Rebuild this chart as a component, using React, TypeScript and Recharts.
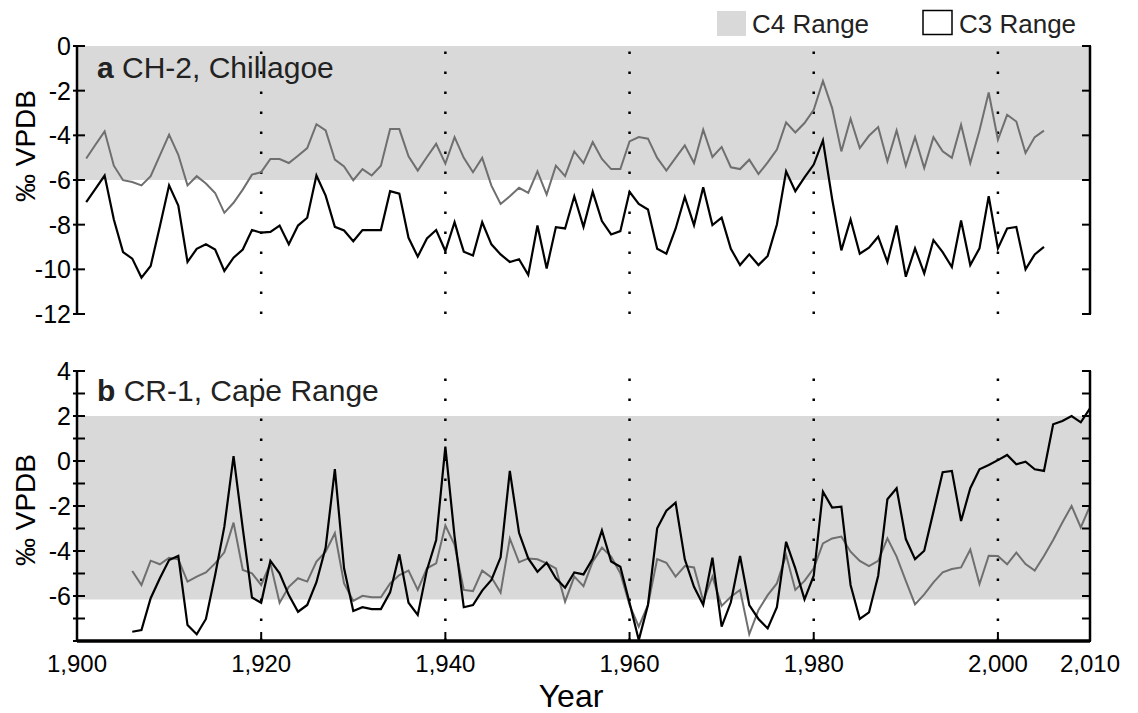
import React from "react";
import {
  LineChart,
  Line,
  XAxis,
  YAxis,
  ReferenceArea,
  ReferenceLine,
} from "recharts";

const FONT = '"Liberation Sans", Arial, Helvetica, sans-serif';

// panel a: CH-2, Chillagoe (1901-2005)
const YEARS_A = [
  1901, 1902, 1903, 1904, 1905, 1906, 1907, 1908, 1909, 1910,
  1911, 1912, 1913, 1914, 1915, 1916, 1917, 1918, 1919, 1920,
  1921, 1922, 1923, 1924, 1925, 1926, 1927, 1928, 1929, 1930,
  1931, 1932, 1933, 1934, 1935, 1936, 1937, 1938, 1939, 1940,
  1941, 1942, 1943, 1944, 1945, 1946, 1947, 1948, 1949, 1950,
  1951, 1952, 1953, 1954, 1955, 1956, 1957, 1958, 1959, 1960,
  1961, 1962, 1963, 1964, 1965, 1966, 1967, 1968, 1969, 1970,
  1971, 1972, 1973, 1974, 1975, 1976, 1977, 1978, 1979, 1980,
  1981, 1982, 1983, 1984, 1985, 1986, 1987, 1988, 1989, 1990,
  1991, 1992, 1993, 1994, 1995, 1996, 1997, 1998, 1999, 2000,
  2001, 2002, 2003, 2004, 2005,
];

const CH2_GRAY = [
  -5.04, -4.42, -3.82, -5.36, -6.01, -6.09, -6.24, -5.83, -4.9, -3.97,
  -4.87, -6.24, -5.83, -6.16, -6.58, -7.47, -7.02, -6.43, -5.76, -5.65,
  -5.06, -5.06, -5.24, -4.91, -4.57, -3.5, -3.78, -5.09, -5.39, -6.01,
  -5.51, -5.8, -5.36, -3.72, -3.72, -4.94, -5.58, -4.97, -4.38, -5.27,
  -4.08, -5.01, -5.65, -5.01, -6.25, -7.07, -6.73, -6.35, -6.58, -5.61,
  -6.65, -5.36, -5.83, -4.72, -5.24, -4.3, -5.06, -5.51, -5.51, -4.27,
  -4.08, -4.15, -5.01, -5.58, -5.01, -4.45, -5.24, -3.75, -4.97, -4.52,
  -5.43, -5.51, -5.09, -5.73, -5.21, -4.64, -3.42, -3.87, -3.45, -2.86,
  -1.56, -2.78, -4.72, -3.26, -4.57, -4.02, -3.63, -5.16, -3.78, -5.36,
  -4.08, -5.46, -4.08, -4.72, -5.01, -3.53, -5.24, -3.78, -2.08, -4.2,
  -3.08, -3.38, -4.79, -4.08, -3.79,
];

const CH2_BLACK = [
  -6.99, -6.4, -5.8, -7.77, -9.23, -9.52, -10.37, -9.85, -8.07, -6.24,
  -7.14, -9.67, -9.08, -8.88, -9.11, -10.07, -9.48, -9.11, -8.24, -8.36,
  -8.32, -8.04, -8.88, -8.04, -7.69, -5.8, -6.7, -8.1, -8.26, -8.74,
  -8.24, -8.24, -8.24, -6.5, -6.61, -8.59, -9.43, -8.62, -8.24, -9.18,
  -7.89, -9.21, -9.38, -7.89, -8.88, -9.33, -9.67, -9.55, -10.25, -8.04,
  -9.96, -8.11, -8.17, -6.73, -8.1, -6.53, -7.84, -8.44, -8.29, -6.53,
  -7.07, -7.32, -9.08, -9.3, -8.18, -6.76, -8.02, -6.32, -8.02, -7.69,
  -9.08, -9.81, -9.33, -9.81, -9.4, -7.99, -5.61, -6.5, -5.88, -5.31,
  -4.23, -6.85, -9.15, -7.77, -9.3, -9.03, -8.54, -9.67, -8.04, -10.33,
  -9.06, -10.18, -8.69, -9.23, -9.9, -7.81, -9.81, -9.06, -6.73, -9.06,
  -8.17, -8.1, -10.0, -9.33, -8.99,
];

// panel b: CR-1, Cape Range (1906-2010)
const YEARS_B = [
  1906, 1907, 1908, 1909, 1910,
  1911, 1912, 1913, 1914, 1915, 1916, 1917, 1918, 1919, 1920,
  1921, 1922, 1923, 1924, 1925, 1926, 1927, 1928, 1929, 1930,
  1931, 1932, 1933, 1934, 1935, 1936, 1937, 1938, 1939, 1940,
  1941, 1942, 1943, 1944, 1945, 1946, 1947, 1948, 1949, 1950,
  1951, 1952, 1953, 1954, 1955, 1956, 1957, 1958, 1959, 1960,
  1961, 1962, 1963, 1964, 1965, 1966, 1967, 1968, 1969, 1970,
  1971, 1972, 1973, 1974, 1975, 1976, 1977, 1978, 1979, 1980,
  1981, 1982, 1983, 1984, 1985, 1986, 1987, 1988, 1989, 1990,
  1991, 1992, 1993, 1994, 1995, 1996, 1997, 1998, 1999, 2000,
  2001, 2002, 2003, 2004, 2005, 2006, 2007, 2008, 2009, 2010,
];

const CR1_GRAY = [
  -4.89, -5.51, -4.43, -4.59, -4.3,
  -4.37, -5.36, -5.14, -4.95, -4.55, -4.06, -2.74, -4.84, -4.99, -5.51,
  -4.55, -6.3, -5.59, -5.21, -5.36, -4.47, -4.03, -3.21, -5.44, -6.22,
  -5.99, -6.06, -6.06, -5.44, -5.07, -4.87, -5.73, -4.77, -4.55, -2.87,
  -3.73, -5.73, -5.78, -4.87, -5.17, -5.85, -3.44, -4.5, -4.33, -4.37,
  -4.55, -4.77, -6.25, -5.14, -5.56, -4.47, -3.85, -4.25, -4.99, -6.4,
  -7.36, -6.4, -4.36, -4.52, -5.14, -4.67, -4.73, -6.22, -5.14, -6.44,
  -6.03, -5.73, -7.7, -6.62, -5.96, -5.44, -4.18, -5.73, -5.33, -4.77,
  -3.66, -3.44, -3.36, -4.03, -4.44, -4.67, -4.44, -3.44, -4.25, -5.33,
  -6.37, -5.93, -5.39, -4.95, -4.8, -4.73, -3.93, -5.47, -4.21, -4.22,
  -4.59, -4.07, -4.58, -4.87, -4.22, -3.51, -2.73, -2.0, -2.95, -2.0,
];

const CR1_BLACK = [
  -7.59, -7.51, -6.1, -5.21, -4.4,
  -4.22, -7.29, -7.7, -7.02, -5.07, -2.92, 0.22, -2.99, -6.07, -6.3,
  -4.44, -4.99, -5.96, -6.7, -6.4, -5.39, -3.85, -0.36, -4.77, -6.67,
  -6.5, -6.58, -6.58, -5.84, -4.15, -6.3, -6.84, -4.84, -3.51, 0.64,
  -3.36, -6.5, -6.4, -5.76, -5.29, -4.28, -0.44, -3.19, -4.33, -4.92,
  -4.52, -5.21, -5.63, -4.95, -5.04, -4.33, -3.09, -4.47, -4.7, -6.3,
  -7.96, -6.4, -2.99, -2.21, -1.85, -4.37, -5.59, -6.4, -4.3, -7.36,
  -6.28, -4.22, -6.4, -7.02, -7.44, -6.5, -3.59, -4.77, -6.15, -5.1,
  -1.36, -2.07, -2.03, -5.51, -7.02, -6.73, -5.1, -1.7, -1.21, -3.47,
  -4.36, -3.99, -2.25, -0.5, -0.44, -2.67, -1.21, -0.37, -0.18, 0.04,
  0.27, -0.15, -0.03, -0.37, -0.44, 1.63, 1.78, 2.0, 1.72, 2.34,
];

const X_TICKS = [1900, 1920, 1940, 1960, 1980, 2000, 2010];
const DOTTED_YEARS = [1920, 1940, 1960, 1980, 2000];
const A_TICKS = [-12, -10, -8, -6, -4, -2, 0];
const B_TICKS = [-8, -7, -6, -5, -4, -3, -2, -1, 0, 1, 2, 3, 4];
const B_LABELS = [-6, -4, -2, 0, 2, 4];

const dataA = YEARS_A.map((year, i) => ({
  year,
  gray: CH2_GRAY[i],
  black: CH2_BLACK[i],
}));

const dataB = YEARS_B.map((year, i) => ({
  year,
  gray: CR1_GRAY[i],
  black: CR1_BLACK[i],
}));

const GRAY = "#6f6f6f";
const BAND = "#d9d9d9";

// plot frame edges (px)
const LEFT_X = 77;
const RIGHT_X = 1090;
const BOTTOM_Y = 641;

const axisLine = { stroke: "#000", strokeWidth: 2.5 };

const fmtYear = (v: number) => v.toLocaleString("en-US");

// tick marks on both vertical axes (pointing inward) + label on the left
const VTick = (props: any) => {
  const { y, payload, showLabel } = props;
  const v = payload.value as number;
  return (
    <g>
      <line x1={LEFT_X - 4} x2={LEFT_X + 8} y1={y} y2={y} stroke="#000" strokeWidth={2} />
      <line x1={RIGHT_X + 1} x2={RIGHT_X - 8} y1={y} y2={y} stroke="#000" strokeWidth={2} />
      {showLabel(v) && (
        <text
          x={LEFT_X - 6}
          y={y}
          textAnchor="end"
          dominantBaseline="central"
          fontSize={25}
          fontFamily={FONT}
          fill="#000"
        >
          {v}
        </text>
      )}
    </g>
  );
};

const XTick = (props: any) => {
  const { x, payload } = props;
  const v = payload.value as number;
  return (
    <g>
      <line x1={x} x2={x} y1={BOTTOM_Y} y2={BOTTOM_Y - 9} stroke="#000" strokeWidth={2} />
      <text
        x={x}
        y={BOTTOM_Y + 22}
        textAnchor="middle"
        dominantBaseline="central"
        fontSize={24}
        fontFamily={FONT}
        fill="#000"
      >
        {fmtYear(v)}
      </text>
    </g>
  );
};

const App: React.FC = () => {
  return (
    <div
      style={{
        position: "absolute",
        left: 0,
        top: 0,
        width: 1138,
        height: 713,
        background: "#fff",
        fontFamily: FONT,
      }}
    >
      <div style={{ position: "absolute", left: 0, top: 0 }}>
        <LineChart
          width={1138}
          height={330}
          data={dataA}
          margin={{ top: 46, right: 46, bottom: 16, left: 0 }}
        >
          <XAxis type="number" dataKey="year" domain={[1900, 2010]} hide />
          <ReferenceArea
            yAxisId="l"
            y1={-6}
            y2={0}
            fill={BAND}
            fillOpacity={1}
            stroke="none"
          />
          {DOTTED_YEARS.map((yr) => (
            <ReferenceLine
              key={`a-${yr}`}
              yAxisId="l"
              x={yr}
              stroke="#000"
              strokeWidth={2.5}
              strokeDasharray="2.5 17.5"
            />
          ))}
          <Line
            yAxisId="l"
            type="linear"
            dataKey="gray"
            stroke={GRAY}
            strokeWidth={2}
            dot={false}
            isAnimationActive={false}
          />
          <Line
            yAxisId="l"
            type="linear"
            dataKey="black"
            stroke="#000"
            strokeWidth={2.2}
            dot={false}
            isAnimationActive={false}
          />
          <YAxis
            yAxisId="l"
            domain={[-12, 0]}
            ticks={A_TICKS}
            width={77}
            axisLine={axisLine}
            tickLine={false}
            interval={0}
            tick={(p: any) => <VTick {...p} showLabel={() => true} />}
          />
          <YAxis
            yAxisId="r"
            orientation="right"
            domain={[-12, 0]}
            width={2}
            axisLine={axisLine}
            tickLine={false}
            tick={false}
          />
        </LineChart>
      </div>

      <div style={{ position: "absolute", left: 0, top: 0 }}>
        <LineChart
          width={1138}
          height={713}
          data={dataB}
          margin={{ top: 371, right: 46, bottom: 0, left: 0 }}
        >
          <ReferenceArea
            yAxisId="l"
            y1={-6.15}
            y2={2}
            fill={BAND}
            fillOpacity={1}
            stroke="none"
          />
          {DOTTED_YEARS.map((yr) => (
            <ReferenceLine
              key={`b-${yr}`}
              yAxisId="l"
              x={yr}
              stroke="#000"
              strokeWidth={2.5}
              strokeDasharray="2.5 17.5"
            />
          ))}
          <Line
            yAxisId="l"
            type="linear"
            dataKey="gray"
            stroke={GRAY}
            strokeWidth={2}
            dot={false}
            isAnimationActive={false}
          />
          <Line
            yAxisId="l"
            type="linear"
            dataKey="black"
            stroke="#000"
            strokeWidth={2.2}
            dot={false}
            isAnimationActive={false}
          />
          <XAxis
            type="number"
            dataKey="year"
            domain={[1900, 2010]}
            ticks={X_TICKS}
            interval={0}
            height={72}
            axisLine={{ stroke: "#000", strokeWidth: 3.5 }}
            tickLine={false}
            tick={(p: any) => <XTick {...p} />}
          />
          <YAxis
            yAxisId="l"
            domain={[-8, 4]}
            ticks={B_TICKS}
            width={77}
            axisLine={axisLine}
            tickLine={false}
            interval={0}
            tick={(p: any) => (
              <VTick {...p} showLabel={(v: number) => B_LABELS.includes(v)} />
            )}
          />
          <YAxis
            yAxisId="r"
            orientation="right"
            domain={[-8, 4]}
            width={2}
            axisLine={axisLine}
            tickLine={false}
            tick={false}
          />
        </LineChart>
      </div>

      {/* titles, axis labels, legend */}
      <svg
        width={1138}
        height={713}
        style={{ position: "absolute", left: 0, top: 0, pointerEvents: "none" }}
        fontFamily={FONT}
      >
        <text x={97} y={78} fontSize={30} fill="#222">
          <tspan fontWeight="bold">a</tspan> CH-2, Chillagoe
        </text>
        <text x={97} y={401} fontSize={30} fill="#222">
          <tspan fontWeight="bold">b</tspan> CR-1, Cape Range
        </text>
        <text
          x={25}
          y={146}
          fontSize={28}
          textAnchor="middle"
          dominantBaseline="central"
          transform="rotate(-90 25 146)"
        >
          ‰ VPDB
        </text>
        <text
          x={25}
          y={510}
          fontSize={28}
          textAnchor="middle"
          dominantBaseline="central"
          transform="rotate(-90 25 510)"
        >
          ‰ VPDB
        </text>
        <text x={571} y={707} fontSize={32} textAnchor="middle">
          Year
        </text>
        <rect x={717} y={11} width={29} height={25} fill={BAND} />
        <text x={752} y={33} fontSize={26} fill="#222">
          C4 Range
        </text>
        <rect
          x={923}
          y={10.5}
          width={29}
          height={24}
          fill="#fff"
          stroke="#000"
          strokeWidth={1.5}
        />
        <text x={959} y={33} fontSize={26} fill="#222">
          C3 Range
        </text>
      </svg>
    </div>
  );
};

export default App;
